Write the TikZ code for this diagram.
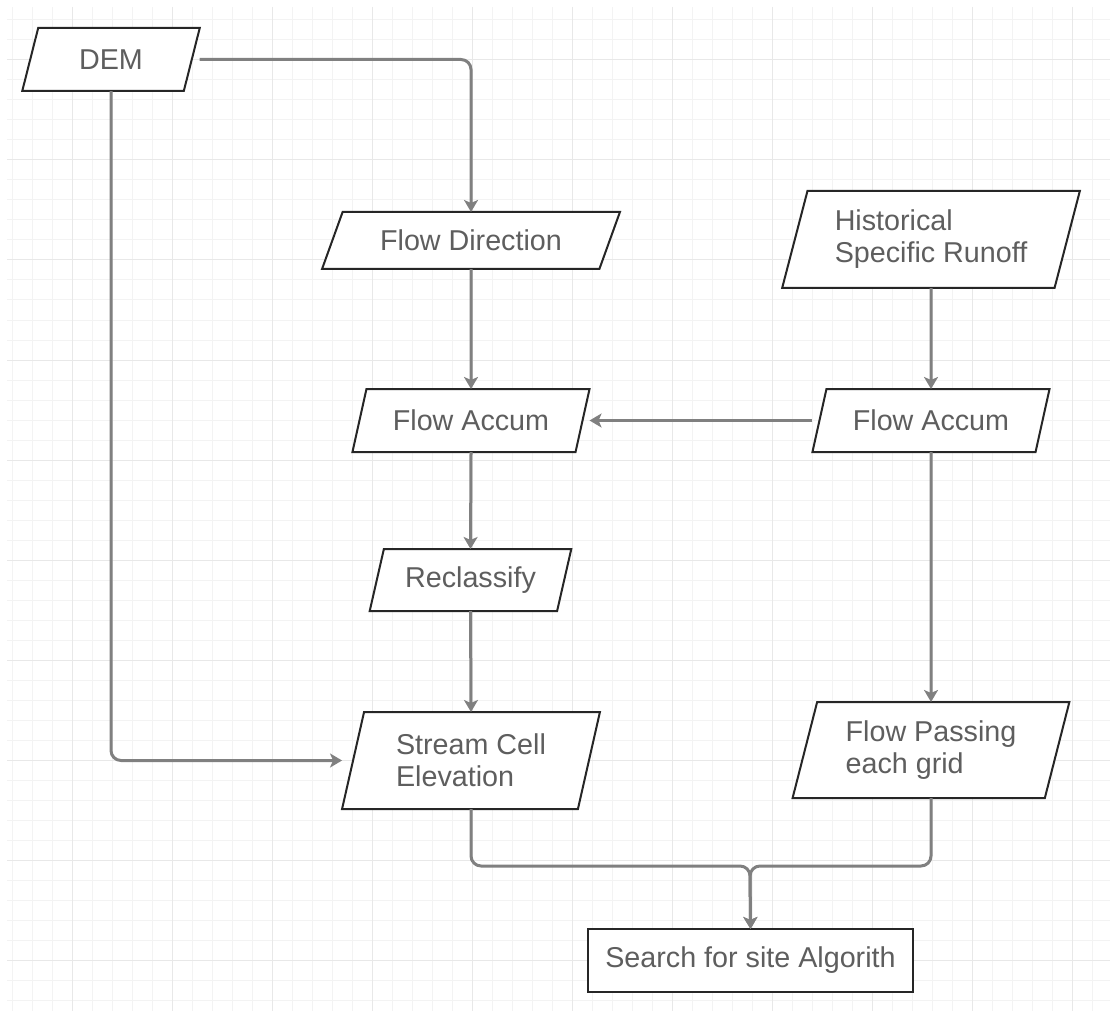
\documentclass[tikz,border=0pt]{standalone}
\usepackage{fontspec}
\setmainfont{Liberation Sans}
\usetikzlibrary{shapes.geometric, arrows.meta}
\definecolor{linegray}{HTML}{808080}
\definecolor{textgray}{HTML}{5E5E5E}
\definecolor{edgegray}{HTML}{262626}
\definecolor{gridminor}{HTML}{F3F3F3}
\definecolor{gridmajor}{HTML}{E8E8E8}

\begin{document}
\begin{tikzpicture}[x=0.5pt, y=-0.5pt,
    dataio/.style={trapezium, trapezium left angle=#1, trapezium right angle=180-#1,
      trapezium stretches=true, draw=edgegray, line width=1pt, fill=white,
      text=textgray, inner sep=2pt, outer sep=0pt, font=\fontsize{14.35}{16}\selectfont},
    procbox/.style={rectangle, draw=edgegray, line width=1pt, fill=white,
      text=textgray, inner sep=2pt, outer sep=0pt, font=\fontsize{14.35}{16}\selectfont},
    flow/.style={draw=linegray, line width=1.5pt, rounded corners=5pt,
      -{Stealth[length=6pt, width=7pt, inset=1.5pt]}}]
  \useasboundingbox (0,0) rectangle (1110,1011);

  % grid
  \foreach \x in {12,32,...,1100} {
    \draw[gridminor, line width=0.5pt] (\x,7) -- (\x,1011);
  }
  \foreach \y in {20,40,...,1000} {
    \draw[gridminor, line width=0.5pt] (7,\y) -- (1110,\y);
  }
  \foreach \x in {72,172,...,1100} {
    \draw[gridmajor, line width=0.5pt] (\x,7) -- (\x,1011);
  }
  \foreach \y in {60,160,...,1000} {
    \draw[gridmajor, line width=0.5pt] (7,\y) -- (1110,\y);
  }

  % inputs
  \node[dataio=74.2, minimum width=89pt, minimum height=31.5pt] (dem) at (111,59.5) {DEM};
  \node[dataio=72.9, minimum width=149pt, minimum height=48.5pt, align=left] (hsr) at (931,239.5) {Historical\\Specific Runoff};

  % left branch
  \node[dataio=62.4, minimum width=149pt, minimum height=28.5pt] (fdir) at (471,240.5) {Flow Direction};
  \node[dataio=69.3, minimum width=119pt, minimum height=31.5pt] (faccl) at (471,420.5) {Flow Accum};
  \node[dataio=71.9, minimum width=101.5pt, minimum height=31pt] (recl) at (470.5,580) {Reclassify};
  \node[dataio=75.1, minimum width=129pt, minimum height=48.5pt, align=left] (scelev) at (471,760.5) {Stream Cell\\Elevation};

  % right branch
  \node[dataio=69.3, minimum width=119pt, minimum height=31.5pt] (faccr) at (931,420.5) {Flow Accum};
  \node[dataio=73.9, minimum width=138.5pt, minimum height=48pt, align=left] (fpass) at (931,750) {Flow Passing\\each grid};

  % output
  \node[procbox, minimum width=162.5pt, minimum height=31.5pt] (search) at (750.5,960.5) {Search for site Algorith};
  \coordinate (merge) at (750,866);

  % connectors
  \draw[flow] (dem.top right corner |- dem) -| (fdir.north);
  \draw[flow] (dem.south) |- (scelev.bottom left corner |- scelev);
  \draw[flow] (fdir.south) -- (faccl.north);
  \draw[flow] (faccl.south) -- (recl.north);
  \draw[flow] (recl.south) -- (scelev.north);
  \draw[flow] (hsr.south) -- (faccr.north);
  \draw[flow] (faccr.bottom left corner |- faccr) -- (faccl.top right corner |- faccl);
  \draw[flow] (faccr.south) -- (fpass.north);
  \draw[flow] (fpass.south) |- (merge) -- (search.north);
  \draw[flow] (scelev.south) |- (merge) -- (search.north);
\end{tikzpicture}
\end{document}
